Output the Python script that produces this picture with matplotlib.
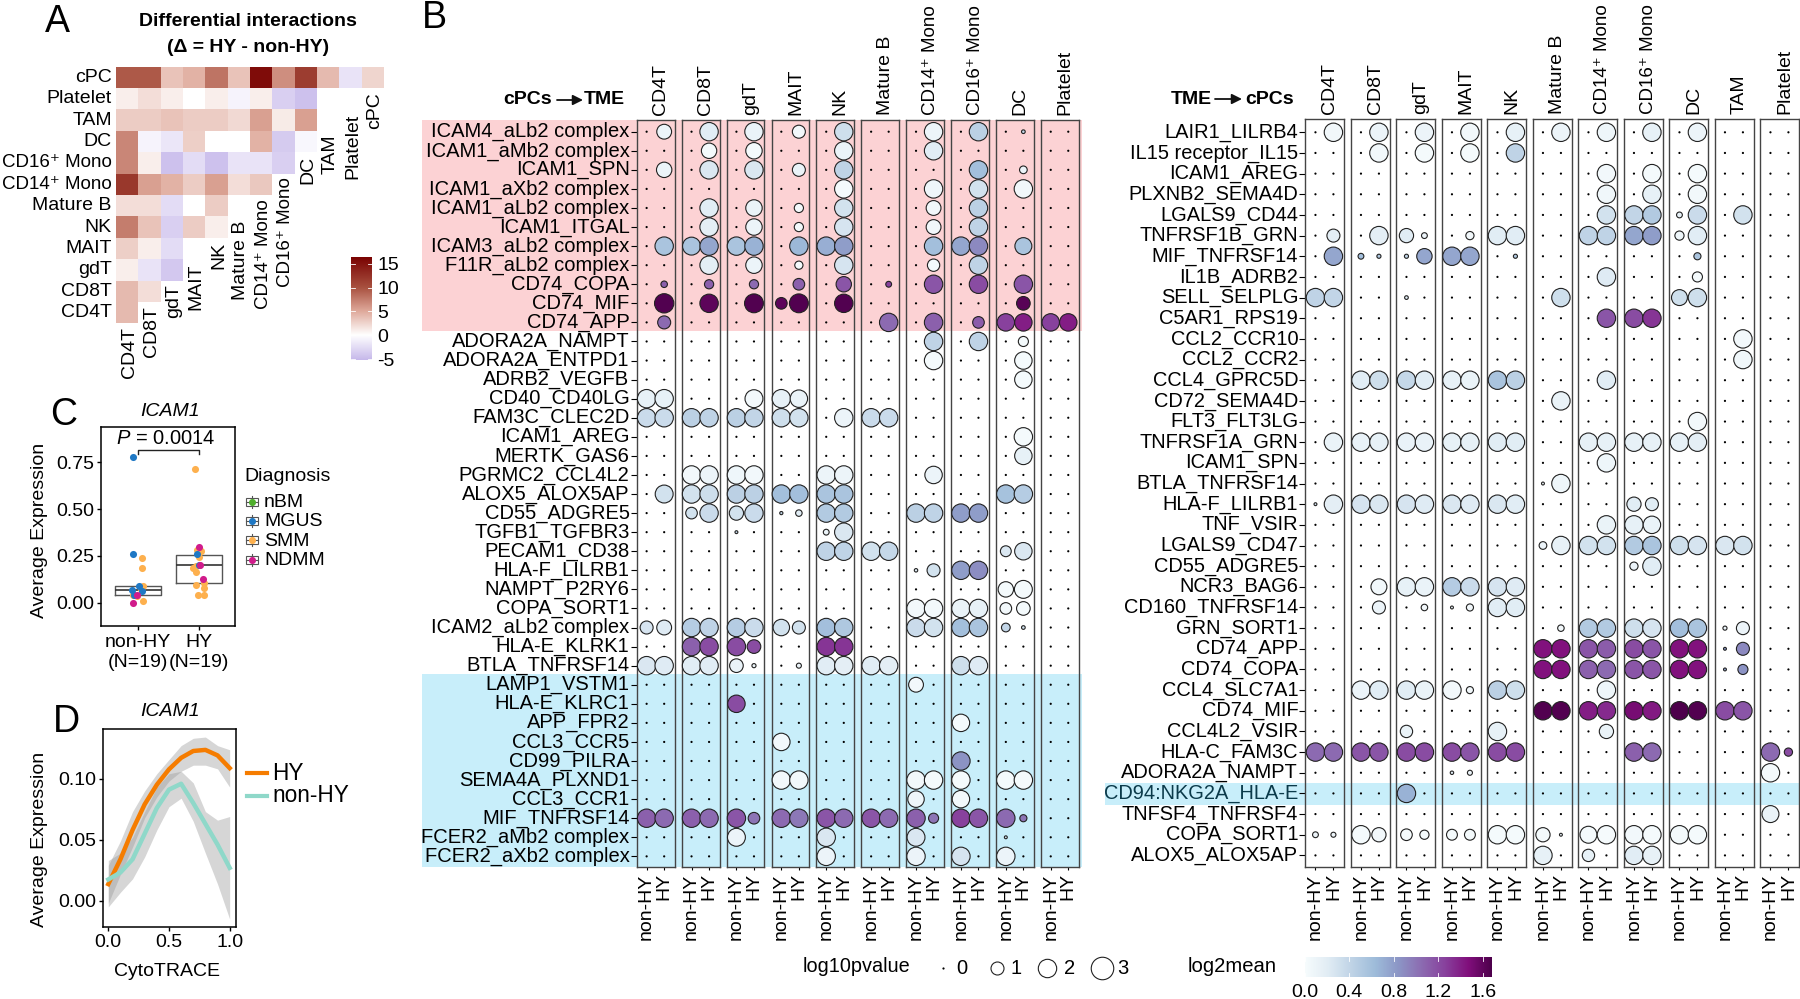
import numpy as np
import matplotlib
matplotlib.use('Agg')
import matplotlib.pyplot as plt
from matplotlib.colors import LinearSegmentedColormap, Normalize
from matplotlib.patches import Rectangle
from matplotlib.transforms import ScaledTranslation

plt.rcParams['font.family'] = ['Liberation Sans', 'DejaVu Sans']
plt.rcParams['font.size'] = 14
plt.rcParams['mathtext.fontset'] = 'custom'
plt.rcParams['mathtext.rm'] = 'Liberation Sans'
plt.rcParams['mathtext.it'] = 'Liberation Sans:italic'

W, H = 1800, 999

# ---- panel A
a_labels = ['CD4T', 'CD8T', 'gdT', 'MAIT', 'NK', 'Mature B', 'CD14\u207a Mono',
            'CD16\u207a Mono', 'DC', 'TAM', 'Platelet', 'cPC']
n = np.nan
a_cpc = [9.5, 9.5, 3.5, 4.5, 8, 3.5, 15.5, 6.5, 11.5, 4, -2, 2.5]
a_platelet = [1, 2, 1, 0, 1, -0.8, 1, -3.5, -4.5, n, n, n]
a_tam = [3, 3, 3.5, 3, 3, 2.2, 5.5, 1.2, 5.5, n, n, n]
a_dc = [7, -0.8, -1.8, 2.8, 0, 0, 4.5, -3.8, -0.6, n, n, n]
a_cd16 = [7, 1, -4.5, -2.5, -4.5, -2, -2, -3.5, n, n, n, n]
a_cd14 = [12, 5.5, 4.5, 3, 5.5, 2, 3.2, n, n, n, n, n]
a_matb = [2, 2, -2.5, 0, 3, n, n, n, n, n, n, n]
a_nk = [7.5, 3.5, -3.5, 3, 1, n, n, n, n, n, n, n]
a_mait = [2.8, 1, -2.5, n, n, n, n, n, n, n, n, n]
a_gdt = [1, -2, -4, n, n, n, n, n, n, n, n, n]
a_cd8 = [4, 2, n, n, n, n, n, n, n, n, n, n]
a_cd4 = [4, n, n, n, n, n, n, n, n, n, n, n]

# ---- panel C: points are (x, y) for each diagnosis
c_box_nonhy = dict(med=0.066, q1=0.04, q3=0.09, whislo=0.04, whishi=0.09, fliers=[])
c_box_hy = dict(med=0.2, q1=0.108, q3=0.257, whislo=0.108, whishi=0.257, fliers=[])
c_smm = [(1.075, .239), (1.075, .183), (1.09, .087), (.92, .041), (.994, .035), (1.09, .008),
         (1.05, .075), (1.94, .716), (1.96, .28), (2.03, .274), (2.005, .243), (1.9, .185),
         (1.95, .195), (1.945, .166), (2.08, .104), (1.95, .093), (2.08, .077), (1.975, .044),
         (2.085, .044)]
c_mgus = [(.923, .776), (.923, .26), (1.02, .091), (.912, .066), (1.075, .062), (.945, .041),
          (1.97, .261), (2.0, .2)]
c_ndmm = [(.923, 0.0), (.98, .04), (2.005, .297), (2.02, .2), (2.07, .129)]
diag_names = ['nBM', 'MGUS', 'SMM', 'NDMM']
diag_colors = ['#4fae2c', '#1f78c4', '#fdb04e', '#d01c8b']

# ---- panel D
d_x = [0, .1, .2, .3, .4, .5, .6, .7, .8, .9, 1.0]
d_hy = [.0137, .034, .058, .079, .095, .1076, .117, .1226, .1235, .119, .1086]
d_hy_lo = [-.002, .0217, .044, .068, .085, .098, .106, .111, .111, .108, .093]
d_hy_hi = [.029, .049, .073, .09, .104, .1156, .127, .133, .134, .127, .1236]
d_non = [.0175, .0232, .034, .055, .076, .091, .0958, .08, .063, .046, .027]
d_non_lo = [-.005, .007, .018, .036, .058, .077, .084, .065, .039, .0137, -.015]
d_non_hi = [.033, .039, .052, .073, .093, .104, .106, .0965, .073, .066, .069]

# ---- panel B
left_panels = ['CD4T', 'CD8T', 'gdT', 'MAIT', 'NK', 'Mature B', 'CD14\u207a Mono', 'CD16\u207a Mono',
               'DC', 'Platelet']
right_panels = ['CD4T', 'CD8T', 'gdT', 'MAIT', 'NK', 'Mature B', 'CD14\u207a Mono', 'CD16\u207a Mono',
                'DC', 'TAM', 'Platelet']
left_rows = ['ICAM4_aLb2 complex', 'ICAM1_aMb2 complex', 'ICAM1_SPN', 'ICAM1_aXb2 complex',
             'ICAM1_aLb2 complex', 'ICAM1_ITGAL', 'ICAM3_aLb2 complex', 'F11R_aLb2 complex',
             'CD74_COPA', 'CD74_MIF', 'CD74_APP', 'ADORA2A_NAMPT', 'ADORA2A_ENTPD1', 'ADRB2_VEGFB',
             'CD40_CD40LG', 'FAM3C_CLEC2D', 'ICAM1_AREG', 'MERTK_GAS6', 'PGRMC2_CCL4L2',
             'ALOX5_ALOX5AP', 'CD55_ADGRE5', 'TGFB1_TGFBR3', 'PECAM1_CD38', 'HLA-F_LILRB1',
             'NAMPT_P2RY6', 'COPA_SORT1', 'ICAM2_aLb2 complex', 'HLA-E_KLRK1', 'BTLA_TNFRSF14',
             'LAMP1_VSTM1', 'HLA-E_KLRC1', 'APP_FPR2', 'CCL3_CCR5', 'CD99_PILRA', 'SEMA4A_PLXND1',
             'CCL3_CCR1', 'MIF_TNFRSF14', 'FCER2_aMb2 complex', 'FCER2_aXb2 complex']
right_rows = ['LAIR1_LILRB4', 'IL15 receptor_IL15', 'ICAM1_AREG', 'PLXNB2_SEMA4D', 'LGALS9_CD44',
              'TNFRSF1B_GRN', 'MIF_TNFRSF14', 'IL1B_ADRB2', 'SELL_SELPLG', 'C5AR1_RPS19',
              'CCL2_CCR10', 'CCL2_CCR2', 'CCL4_GPRC5D', 'CD72_SEMA4D', 'FLT3_FLT3LG',
              'TNFRSF1A_GRN', 'ICAM1_SPN', 'BTLA_TNFRSF14', 'HLA-F_LILRB1', 'TNF_VSIR',
              'LGALS9_CD47', 'CD55_ADGRE5', 'NCR3_BAG6', 'CD160_TNFRSF14', 'GRN_SORT1',
              'CD74_APP', 'CD74_COPA', 'CCL4_SLC7A1', 'CD74_MIF', 'CCL4L2_VSIR', 'HLA-C_FAM3C',
              'ADORA2A_NAMPT', 'CD94:NKG2A_HLA-E', 'TNFSF4_TNFRSF4', 'COPA_SORT1', 'ALOX5_ALOX5AP']

# one list per row: (panel, 0=non-HY 1=HY, log10pvalue, log2mean); anything not listed is p = 0
left_dots = [
    [(0, 1, 1.3, .1), (1, 1, 2, .2), (2, 1, 2, .12), (3, 1, 1, .05), (4, 1, 2, .32), (6, 1, 2, .1),
     (7, 1, 2, .45), (8, 1, .08, .4)],
    [(1, 1, 1.4, .03), (2, 1, 1.6, .03), (4, 1, 2, .12), (6, 1, 2, .2)],
    [(0, 1, 1.4, .1), (1, 1, 2, .25), (2, 1, 2, .25), (3, 1, 1, .12), (4, 1, 2, .42), (7, 1, 2, .6),
     (8, 1, .35, .1)],
    [(4, 1, 2, .03), (6, 1, 2, .08), (7, 1, 2, .3), (8, 1, 2, .06)],
    [(1, 1, 2, .2), (2, 1, 1.6, .12), (3, 1, .5, .04), (4, 1, 2, .3), (6, 1, 1.3, .06), (7, 1, 2, .45)],
    [(1, 1, 2, .18), (2, 1, 1.6, .1), (3, 1, .5, .04), (4, 1, 2, .28), (6, 1, 1.3, .06), (7, 1, 2, .42)],
    [(0, 1, 2, .55), (1, 0, 1.9, .55), (1, 1, 2, .75), (2, 0, 2, .55), (2, 1, 2, .68), (3, 1, 2, .65),
     (4, 0, 2, .7), (4, 1, 2, .8), (6, 1, 2, .6), (7, 0, 2, .75), (7, 1, 2, .9), (8, 1, 1.7, .55)],
    [(1, 1, 2, .18), (2, 1, 1.6, .1), (3, 1, .4, .03), (4, 1, 2, .28), (6, 1, .9, .03), (7, 1, 2, .42)],
    [(0, 1, .25, 1.1), (1, 1, .5, 1.1), (2, 1, .5, 1.05), (3, 1, .8, 1.1), (4, 1, 1.4, 1.15),
     (5, 1, .2, 1.25), (6, 1, 2, 1.15), (7, 1, 2, 1.2), (8, 1, 2, 1.15)],
    [(0, 1, 2.2, 1.65), (1, 1, 2, 1.6), (2, 1, 2.1, 1.65), (3, 0, .8, 1.6), (3, 1, 2.1, 1.65),
     (4, 1, 2, 1.65), (8, 1, 1.1, 1.62)],
    [(0, 1, 1, 1.05), (5, 1, 2, 1.05), (6, 1, 2, 1.1), (7, 1, .8, 1.12), (8, 0, 1.8, 1.25),
     (8, 1, 1.8, 1.4), (9, 0, 1.8, 1.25), (9, 1, 1.8, 1.4)],
    [(6, 1, 2, .42), (7, 1, 2, .42), (8, 1, .6, .03)],
    [(6, 1, 2, .03), (8, 1, 1.8, .03)],
    [(8, 1, 1.8, .03)],
    [(0, 0, 2, .15), (0, 1, 2, .15), (2, 1, 1.9, .05), (3, 0, 2, .15), (3, 1, 1.8, .12)],
    [(0, 0, 2, .35), (0, 1, 2, .35), (1, 0, 2, .45), (1, 1, 2, .42), (2, 0, 2, .45), (2, 1, 2, .4),
     (3, 0, 2, .32), (3, 1, 2, .3), (4, 1, 2, .1), (5, 0, 2, .35), (5, 1, 2, .35)],
    [(8, 1, 2, .03)],
    [(8, 1, 1.8, .15)],
    [(1, 0, 2, .05), (1, 1, 2, .1), (2, 0, 2, .08), (2, 1, 2, .05), (4, 0, 2, .1), (4, 1, 2, .1),
     (6, 1, 1.8, .1)],
    [(0, 1, 1.9, .3), (1, 0, 2, .3), (1, 1, 2, .33), (2, 0, 2, .45), (2, 1, 2, .45), (3, 0, 2, .6),
     (3, 1, 2, .6), (4, 0, 2, .55), (4, 1, 2, .55), (8, 0, 2, .58), (8, 1, 2, .48)],
    [(1, 0, .8, .3), (1, 1, 2, .35), (2, 0, 1.2, .3), (2, 1, 2, .35), (3, 0, .06, .4), (3, 1, .25, .2),
     (4, 0, 2, .5), (4, 1, 2, .5), (6, 0, 2, .45), (6, 1, 2, .42), (7, 0, 2, .8), (7, 1, 2, .8)],
    [(2, 0, .05, .4), (4, 0, .2, .1), (4, 1, 2, .25)],
    [(4, 0, 2, .42), (4, 1, 2, .42), (5, 0, 2, .3), (5, 1, 2, .38), (8, 0, .7, .25), (8, 1, 1.8, .25)],
    [(6, 0, .07, .2), (6, 1, 1, .3), (7, 0, 2, .8), (7, 1, 2, .88)],
    [(8, 0, 1.4, .03), (8, 1, 1.9, .03)],
    [(6, 0, 2, .05), (6, 1, 2, .05), (7, 0, 2, .12), (7, 1, 2, .15), (8, 0, .8, .05), (8, 1, 1.1, .03)],
    [(0, 0, 1, .28), (0, 1, 1.3, .22), (1, 0, 2, .48), (1, 1, 2, .42), (2, 0, 2, .48), (2, 1, 2, .35),
     (3, 0, 1.6, .3), (3, 1, 1, .3), (4, 0, 2, .6), (4, 1, 2, .52), (6, 0, 2, .35), (6, 1, 2, .3),
     (7, 0, 2, .6), (7, 1, 2, .55), (8, 0, .45, .4), (8, 1, .08, .3)],
    [(1, 0, 2, 1.1), (1, 1, 2, 1.2), (2, 0, 2, 1.2), (2, 1, 1.1, 1.2), (4, 0, 2, 1.3), (4, 1, 2, 1.3)],
    [(0, 0, 2, .25), (0, 1, 2, .22), (1, 0, 2, .2), (1, 1, 2, .2), (2, 0, 1.1, .12), (2, 1, .1, .08),
     (3, 1, .15, .1), (4, 0, 2, .2), (4, 1, 2, .18), (5, 0, 2, .2), (5, 1, 2, .18), (7, 0, 2, .32),
     (7, 1, 2, .22)],
    [(6, 0, 1.3, .05)],
    [(2, 0, 1.8, 1.2)],
    [(7, 0, 1.8, .03)],
    [(3, 0, 1.8, .05)],
    [(7, 0, 2, .85)],
    [(3, 0, 2, .05), (3, 1, 2, .05), (6, 0, 2, .05), (6, 1, 2, .03), (7, 0, 2, .03), (8, 0, 2, .03),
     (8, 1, 2, .03)],
    [(6, 0, 1.6, .08), (7, 0, 1.8, .05)],
    [(0, 0, 2, 1.1), (0, 1, 2, 1.05), (1, 0, 2, 1.1), (1, 1, 2, 1.05), (2, 0, 2, 1.15), (2, 1, .8, 1.0),
     (3, 0, 2, 1.05), (3, 1, 2, .98), (4, 0, 2, 1.15), (4, 1, 2, 1.05), (5, 0, 2, 1.15), (5, 1, 2, 1.05),
     (6, 0, 2, 1.1), (6, 1, .6, 1.0), (7, 0, 2, 1.25), (7, 1, 2, 1.15), (8, 0, 2, 1.05), (8, 1, .3, 1.0)],
    [(2, 0, 1.9, .1), (4, 0, 2, .25), (6, 0, 1.9, .25), (8, 0, .05, .3)],
    [(4, 0, 2, .1), (6, 0, 2, .1), (7, 0, 2, .28), (8, 0, 2, .1)],
]
right_dots = [
    [(0, 1, 2, .06), (1, 1, 2, .1), (2, 1, 2, .1), (3, 1, 2, .05), (4, 1, 2, .15), (5, 1, 2, .1),
     (6, 1, 2, .08), (7, 1, 2, .15), (8, 1, 2, .1)],
    [(1, 1, 2, .05), (2, 1, 2, .03), (3, 1, 2, .03), (4, 1, 2, .42)],
    [(6, 1, 2, .05), (7, 1, 2, .03), (8, 1, 2, .03)],
    [(6, 1, 2, .07), (7, 1, 2, .15), (8, 1, 2, .05)],
    [(6, 1, 2, .3), (7, 0, 2, .4), (7, 1, 2, .5), (8, 0, .2, .15), (8, 1, 2, .35), (9, 1, 2, .3)],
    [(0, 1, 1, .18), (1, 1, 2, .18), (2, 0, 1.2, .2), (2, 1, .2, .1), (3, 1, .4, .05), (4, 0, 2, .2),
     (4, 1, 2, .2), (6, 0, 2, .42), (6, 1, 2, .42), (7, 0, 2, .75), (7, 1, 2, .8), (8, 0, .5, .08),
     (8, 1, 2, .2)],
    [(0, 1, 2, .75), (1, 0, .2, .6), (1, 1, .1, .5), (2, 0, .1, .4), (2, 1, 1.4, .75), (3, 0, 2, .75),
     (3, 1, 2, .75), (4, 1, .1, .5), (8, 1, .3, .55)],
    [(6, 1, 2, .22), (8, 1, .6, .03)],
    [(0, 0, 2, .42), (0, 1, 2, .4), (2, 0, .08, .2), (5, 1, 2, .32), (8, 0, 1.5, .32), (8, 1, 2, .32)],
    [(6, 1, 2, 1.15), (7, 0, 2, 1.2), (7, 1, 2, 1.3)],
    [(9, 1, 2, .05)],
    [(9, 1, 2, .07)],
    [(1, 0, 2, .2), (1, 1, 2, .32), (2, 0, 2, .38), (2, 1, 2, .2), (3, 0, 2, .15), (3, 1, 2, .12),
     (4, 0, 2, .55), (4, 1, 2, .45), (6, 1, 2, .2)],
    [(5, 1, 2, .12)],
    [(8, 1, 2, .05)],
    [(0, 1, 2, .12), (1, 0, 2, .13), (1, 1, 2, .15), (2, 0, 2, .13), (2, 1, 2, .13), (3, 0, 2, .15),
     (3, 1, 2, .15), (4, 0, 2, .2), (4, 1, 2, .2), (6, 0, 2, .15), (6, 1, 2, .15), (7, 0, 2, .15),
     (7, 1, 2, .15), (8, 0, 2, .15), (8, 1, 2, .18)],
    [(6, 1, 2, .08)],
    [(5, 0, .05, .1), (5, 1, 2, .08)],
    [(0, 0, .05, .3), (0, 1, 2, .18), (1, 0, 2, .28), (1, 1, 2, .25), (2, 0, 2, .28), (2, 1, 2, .22),
     (3, 0, 2, .25), (3, 1, 2, .22), (4, 0, 2, .25), (4, 1, 2, .2), (7, 0, 1.2, .2), (7, 1, 1, .2)],
    [(6, 1, 2, .12), (7, 0, 2, .15), (7, 1, 1.8, .12)],
    [(5, 0, .35, .1), (5, 1, 2, .15), (6, 0, 2, .3), (6, 1, 2, .3), (7, 0, 2, .5), (7, 1, 2, .55),
     (8, 0, 2, .32), (8, 1, 2, .28), (9, 0, 2, .25), (9, 1, 2, .3)],
    [(7, 0, .4, .1), (7, 1, 2, .2)],
    [(1, 1, 1.5, .05), (2, 0, 2, .15), (2, 1, 2, .12), (3, 0, 2, .48), (3, 1, 2, .35), (4, 0, 2, .28),
     (4, 1, 2, .22)],
    [(1, 1, 1, .1), (2, 1, .25, .05), (3, 0, .05, .1), (3, 1, .3, .05), (4, 0, 2, .2), (4, 1, 2, .2)],
    [(5, 1, .25, .05), (6, 0, 2, .5), (6, 1, 2, .5), (7, 0, 2, .32), (7, 1, 2, .28), (8, 0, 2, .6),
     (8, 1, 2, .55), (9, 0, .1, .1), (9, 1, 1, .1)],
    [(5, 0, 2, 1.45), (5, 1, 2, 1.45), (6, 0, 2, 1.15), (6, 1, 2, 1.12), (7, 0, 2, 1.2), (7, 1, 2, 1.15),
     (8, 0, 2, 1.45), (8, 1, 2, 1.45), (9, 0, .05, .8), (9, 1, 1, .9)],
    [(5, 0, 2, 1.45), (5, 1, 2, 1.45), (6, 0, 2, 1.1), (6, 1, 2, 1.05), (7, 0, 2, 1.15), (7, 1, 2, 1.15),
     (8, 0, 2, 1.45), (8, 1, 2, 1.45), (9, 0, .05, .75), (9, 1, .6, .85)],
    [(1, 0, 2, .1), (1, 1, 2, .2), (2, 0, 2, .2), (2, 1, 2, .12), (3, 0, 2, .05), (3, 1, .3, .05),
     (4, 0, 2, .45), (4, 1, 2, .32), (6, 1, 2, .08)],
    [(5, 0, 2, 1.65), (5, 1, 2, 1.65), (6, 0, 2, 1.4), (6, 1, 2, 1.35), (7, 0, 2, 1.5), (7, 1, 2, 1.42),
     (8, 0, 2, 1.67), (8, 1, 2, 1.65), (9, 0, 2, 1.2), (9, 1, 2, 1.15)],
    [(2, 0, .9, .12), (4, 0, 2, .15), (6, 1, 1.2, .12)],
    [(0, 0, 2, 1.05), (0, 1, 2, 1.05), (1, 0, 2, 1.15), (1, 1, 2, 1.15), (2, 0, 2, 1.2), (2, 1, 2, 1.2),
     (3, 0, 2, 1.2), (3, 1, 2, 1.15), (4, 0, 2, 1.2), (4, 1, 2, 1.2), (7, 0, 2, 1.1), (7, 1, 2, 1.05),
     (10, 0, 2, 1.05), (10, 1, .4, 1.2)],
    [(3, 0, .07, .2), (3, 1, .15, .1), (10, 0, 2, .03)],
    [(2, 0, 2, .68)],
    [(10, 0, 1.7, .12)],
    [(0, 0, .2, .1), (0, 1, .15, .1), (1, 0, 2, .03), (1, 1, 1.2, .05), (2, 0, .8, .03), (2, 1, .5, .03),
     (3, 0, .7, .03), (3, 1, .7, .03), (4, 0, 2, .03), (4, 1, 2, .03), (5, 0, 1.2, .03), (5, 1, .05, .1),
     (6, 0, 1.7, .03), (6, 1, 2, .02), (7, 0, 2, .05), (7, 1, 2, .03), (8, 0, 2, .04), (8, 1, 2, .03)],
    [(5, 0, 2, .15), (6, 0, .9, .15), (7, 0, 2, .2), (7, 1, 2, .15)],
]


def px_axes(left, top, right, bottom, **kw):
    return fig.add_axes([left / W, 1 - bottom / H, (right - left) / W, (bottom - top) / H], **kw)


def dot_size(p):
    p = np.asarray(p, dtype=float)
    diam = np.where(p > 0, 13 * np.sqrt(p), 2.2)
    return (diam * 0.72) ** 2


def strip_font(name):
    return 13.5 if '\u207a' in name else 14


fig = plt.figure(figsize=(W / 100, H / 100), dpi=100)
label_up = ScaledTranslation(0, 2 / 72 * 0.72 * 72 / 72, fig.dpi_scale_trans)

# full figure overlay in pixels for free text and legends
ov = fig.add_axes([0, 0, 1, 1], zorder=5)
ov.set_xlim(0, W)
ov.set_ylim(H, 0)
ov.axis('off')

for lab, x, y in [('A', 45, 32), ('B', 422, 28), ('C', 50, 425), ('D', 53, 732)]:
    ov.text(x, y, lab, fontsize=27, ha='left', va='baseline')

# ---- A: heatmap
a_rows = np.array([a_cd4, a_cd8, a_gdt, a_mait, a_nk, a_matb, a_cd14, a_cd16, a_dc, a_tam,
                   a_platelet, a_cpc])
a_vmin, a_vmax = -5.2, 16.5
a_nodes = [(-5.2, '#c6b8ea'), (0, '#ffffff'), (5, '#dfa99b'), (10, '#a8503f'), (16.5, '#780000')]
a_cmap = LinearSegmentedColormap.from_list(
    'delta', [((v - a_vmin) / (a_vmax - a_vmin), c) for v, c in a_nodes])
ax = px_axes(116, 66.7, 384, 323.3)
ax.pcolormesh(np.arange(13), np.arange(13), a_rows, cmap=a_cmap, vmin=a_vmin, vmax=a_vmax)
ax.set_xlim(0, 12)
ax.set_ylim(0, 12)
ax.set_xticks([])
ax.set_yticks(np.arange(12) + 0.5, a_labels)
ax.tick_params(axis='y', length=0, pad=3)
for t in ax.get_yticklabels():
    t.set_transform(t.get_transform() + label_up)
    t.set_fontsize(strip_font(t.get_text()))
for s in ax.spines.values():
    s.set_visible(False)
for i, lab in enumerate(a_labels):
    ov.text(116 + (i + .5) * 22.33 + 2, 323.3 - i * 21.4 + 4, lab, rotation=90, ha='center', va='top',
            fontsize=strip_font(lab))
ov.text(248, 22, 'Differential interactions', fontweight='bold', ha='center', va='center')
ov.text(248, 47, '(\u0394 = HY - non-HY)', fontweight='bold', ha='center', va='center')

cax = px_axes(351, 256.7, 371.7, 360)
cax.imshow(np.linspace(a_vmax, a_vmin, 256)[:, None], aspect='auto', cmap=a_cmap,
           extent=[0, 1, a_vmin, a_vmax], vmin=a_vmin, vmax=a_vmax)
cax.set_xticks([])
cax.yaxis.tick_right()
cax.set_yticks([-5, 0, 5, 10, 15], ['-5', '0', '5', '10', '15'])
cax.tick_params(axis='y', length=0, pad=4)
for v in [-5, 0, 5, 10, 15]:
    cax.plot([0, .2], [v, v], color='white', lw=0.6)
    cax.plot([.8, 1], [v, v], color='white', lw=0.6)
cax.set_xlim(0, 1)
cax.set_ylim(a_vmin, a_vmax)
for s in cax.spines.values():
    s.set_visible(False)

# ---- C: box + points
ax = px_axes(101, 427, 235, 626)
ax.bxp([c_box_nonhy, c_box_hy], positions=[1, 2], widths=0.75, showcaps=False, showfliers=False,
       boxprops=dict(color='#555555', lw=1), medianprops=dict(color='#333333', lw=1.2),
       whiskerprops=dict(color='#555555', lw=1))
for pts, col in [(c_smm, diag_colors[2]), (c_mgus, diag_colors[1]), (c_ndmm, diag_colors[3])]:
    ax.scatter([p[0] for p in pts], [p[1] for p in pts], s=26, color=col, lw=0, zorder=3)
ax.set_xlim(0.4, 2.587)
ax.set_ylim(-0.124, 0.938)
ax.set_xticks([1, 2], ['non-HY\n(N=19)', 'HY\n(N=19)'])
ax.set_yticks([0, .25, .5, .75], ['0.00', '0.25', '0.50', '0.75'])
ax.tick_params(axis='both', length=3, width=1, labelsize=14, pad=2)
ax.tick_params(axis='x', labelsize=14, pad=3)
ax.plot([1, 1, 2, 2], [.793, .813, .813, .793], color='#222222', lw=1)
ax.text(1.45, .875, '$\\mathit{P}$ = 0.0014', ha='center', va='center', fontsize=14.5)
for s in ax.spines.values():
    s.set_linewidth(1.1)
ov.text(40, 530, 'Average Expression', rotation=90, ha='center', va='center')
ov.text(170, 411, 'ICAM1', style='italic', ha='center', va='center')
ov.text(244, 476.4, 'Diagnosis', ha='left', va='center')
for name, col, y in zip(diag_names, diag_colors, [501.7, 521, 540, 559.6]):
    ov.plot([251.7, 251.7], [y - 6, y + 6], color='#555555', lw=0.8)
    ov.add_patch(Rectangle((245.5, y - 4), 12.5, 8, fc='white', ec='#555555', lw=0.8))
    ov.plot([245.5, 258], [y, y], color='#555555', lw=0.8)
    ov.scatter([251.7], [y], s=26, color=col, lw=0, zorder=3)
    ov.text(264, y + 1, name, ha='left', va='center')

# ---- D: smooth curves
ax = px_axes(102.7, 728.5, 236, 927)
ax.fill_between(d_x, d_hy_lo, d_hy_hi, color='#999999', alpha=0.4, lw=0)
ax.fill_between(d_x, d_non_lo, d_non_hi, color='#999999', alpha=0.4, lw=0)
ax.plot(d_x, d_hy, color='#f57c00', lw=3.2)
ax.plot(d_x, d_non, color='#8fd8c9', lw=3.2)
ax.set_xlim(-0.046, 1.052)
ax.set_ylim(-0.0214, 0.141)
ax.set_xticks([0, .5, 1], ['0.0', '0.5', '1.0'])
ax.set_yticks([0, .05, .1], ['0.00', '0.05', '0.10'])
ax.tick_params(axis='both', length=3, width=1, labelsize=14, pad=2)
for s in ax.spines.values():
    s.set_linewidth(1.1)
ov.text(40, 839, 'Average Expression', rotation=90, ha='center', va='center')
ov.text(170, 711, 'ICAM1', style='italic', ha='center', va='center')
ov.text(167, 971, 'CytoTRACE', ha='center', va='center')
ov.plot([246.7, 267], [773, 773], color='#f57c00', lw=3)
ov.plot([246.7, 267], [795.5, 795.5], color='#8fd8c9', lw=3)
ov.text(272, 773, 'HY', fontsize=16.3, ha='left', va='center')
ov.text(272, 795.5, 'non-HY', fontsize=16.3, ha='left', va='center')

# ---- B: dot plots
mean_norm = Normalize(0, 1.67)
mean_cmap = plt.get_cmap('BuPu')

fig.add_artist(Rectangle((422 / W, 1 - 331 / H), 660 / W, 211 / H, transform=fig.transFigure,
                         fc='#fcd2d4', ec='none', zorder=-1))
fig.add_artist(Rectangle((422 / W, 1 - 867.3 / H), 660 / W, 193.3 / H, transform=fig.transFigure,
                         fc='#c8eefa', ec='none', zorder=-1))
fig.add_artist(Rectangle((1105 / W, 1 - 805 / H), 695 / W, 21.7 / H, transform=fig.transFigure,
                         fc='#c8eefa', ec='none', zorder=-1))


def dot_facets(panels, rows, dots, x0, step, width, y0, pitch, top, bottom, label_size):
    nrow = len(rows)
    pvals = np.zeros((nrow, len(panels), 2))
    means = np.zeros((nrow, len(panels), 2))
    for r, row in enumerate(dots):
        for pan, grp, p, m in row:
            pvals[r, pan, grp] = p
            means[r, pan, grp] = m
    for k, name in enumerate(panels):
        left = x0 + k * step
        ax = px_axes(left, top, left + width, bottom, facecolor='none')
        yy, xx = np.meshgrid(np.arange(nrow), [0, 1], indexing='ij')
        p = pvals[:, k, :].ravel()
        m = means[:, k, :].ravel()
        x = xx.ravel()
        y = yy.ravel()
        zero = p == 0
        ax.scatter(x[zero], y[zero], s=dot_size(p[zero]), color='black', lw=0, clip_on=False)
        ax.scatter(x[~zero], y[~zero], s=dot_size(p[~zero]), c=mean_cmap(mean_norm(m[~zero])),
                   edgecolors='#222222', linewidths=0.8, clip_on=False, zorder=3)
        ax.set_xlim(-0.56, 1.6)
        ax.set_ylim((bottom - y0) / pitch, (top - y0) / pitch)
        ax.set_xticks([0, 1], ['non-HY', 'HY'], rotation=90, fontsize=14)
        ax.tick_params(axis='x', length=2.3, width=0.8, pad=2)
        if k == 0:
            ax.set_yticks(np.arange(nrow), rows, fontsize=label_size)
            ax.tick_params(axis='y', length=4, width=0.8, pad=1.2)
            for t in ax.get_yticklabels():
                t.set_transform(t.get_transform() + label_up)
                if t.get_text() == 'CD94:NKG2A_HLA-E':
                    t.set_color('#0b3a4a')
        else:
            ax.set_yticks([])
        for s in ax.spines.values():
            s.set_color('#444444')
            s.set_linewidth(1)
        ov.text(left + width / 2 + 5, top - 5, name, rotation=90, ha='center', va='bottom',
                fontsize=strip_font(name))


dot_facets(left_panels, left_rows, left_dots, 636.8, 44.9, 37.9, 131.7, 19.07, 120, 867.3, 14.5)
dot_facets(right_panels, right_rows, right_dots, 1305.4, 45.5, 38.8, 132.3, 20.66, 119.3, 867.3, 14.4)


def flow_title(y, first, x_first, arrow_from, arrow_to, second, x_second):
    ov.text(x_first, y, first, fontweight='bold', ha='right', va='center')
    ov.annotate('', xy=(arrow_to, y), xytext=(arrow_from, y),
                arrowprops=dict(arrowstyle='-|>', color='#111111', lw=1.3, shrinkA=0, shrinkB=0,
                                mutation_scale=15))
    ov.text(x_second, y, second, fontweight='bold', ha='right', va='center')


flow_title(100, 'cPCs', 552, 557, 583, 'TME', 625)
flow_title(99, 'TME', 1212, 1215, 1242, 'cPCs', 1294)

# bottom legends
ov.text(803, 966, 'log10pvalue', ha='left', va='center', fontsize=14.3)
for val, cx, tx in [(0, 943, 961.7), (1, 996.6, 1016), (2, 1047, 1070), (3, 1102, 1123)]:
    ov.scatter([cx], [968], s=dot_size(val), color='white' if val else 'black',
               edgecolors='#222222', linewidths=0.8 if val else 0)
    ov.text(tx, 969, str(val), ha='center', va='center', fontsize=14.5)
ov.text(1188, 966.7, 'log2mean', ha='left', va='center', fontsize=14.6)
cbx = px_axes(1304.5, 956.7, 1490.6, 976.7)
cbx.imshow(np.linspace(0, 1.67, 256)[None, :], aspect='auto', cmap=mean_cmap, norm=mean_norm,
           extent=[0, 1.67, 0, 1])
cbx.set_yticks([])
cbx.set_xticks([0, .4, .8, 1.2, 1.6], ['0.0', '0.4', '0.8', '1.2', '1.6'], fontsize=14)
cbx.tick_params(axis='x', length=0, pad=5)
for v in [0, .4, .8, 1.2, 1.6]:
    cbx.plot([v, v], [0, .2], color='white', lw=0.6)
    cbx.plot([v, v], [.8, 1], color='white', lw=0.6)
cbx.set_xlim(0, 1.67)
cbx.set_ylim(0, 1)
for s in cbx.spines.values():
    s.set_visible(False)

fig.savefig('out.png', dpi=100)
